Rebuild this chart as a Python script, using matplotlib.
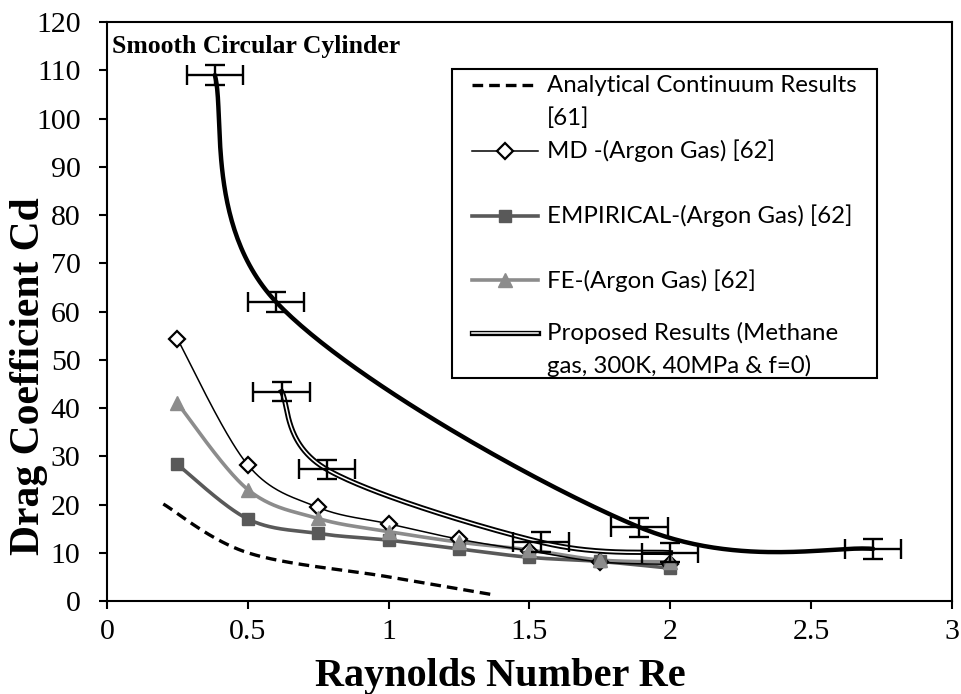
import numpy as np
import matplotlib
matplotlib.use("Agg")
import matplotlib.pyplot as plt
import matplotlib.patheffects as pe
from matplotlib.patches import Rectangle

# Reynolds number grid shared by the reference argon series
re_argon = [0.25, 0.5, 0.75, 1.0, 1.25, 1.5, 1.75, 2.0]
cd_md = [54.3, 28.2, 19.4, 16.0, 12.8, 10.4, 8.1, 7.6]
cd_empirical = [28.3, 17.0, 14.0, 12.6, 10.8, 9.05, 8.2, 6.8]
cd_fe = [41.0, 23.1, 17.1, 14.4, 12.2, 10.6, 8.5, 8.1]

# analytical continuum curve
re_analytical = [0.2, 0.5, 1.0, 1.38]
cd_analytical = [20.1, 10.0, 5.0, 1.2]

# proposed results (methane)
re_proposed = [0.62, 0.78, 1.54, 2.0]
cd_proposed = [43.4, 27.3, 12.2, 10.0]
proposed_xerr = 0.1
proposed_yerr = 2.0

# thick black trend curve with error bars
re_trend = [0.383, 0.6, 1.89, 2.72]
cd_trend = [109.0, 62.0, 15.3, 10.8]
trend_xerr = 0.1
trend_yerr = 2.0


def smooth(xs, ys, n=60):
    # Bezier smoothing through every point (spreadsheet style "smoothed line")
    p = np.column_stack([xs, ys]).astype(float)
    ext = np.vstack([p[0], p, p[-1]])
    t = np.linspace(0, 1, n)[1:, None]
    out = [p[:1]]
    for i in range(len(p) - 1):
        p0, p3 = ext[i + 1], ext[i + 2]
        c1 = p0 + (ext[i + 2] - ext[i]) / 6.0
        c2 = p3 - (ext[i + 3] - ext[i + 1]) / 6.0
        seg = ((1 - t) ** 3) * p0 + 3 * ((1 - t) ** 2) * t * c1 \
            + 3 * (1 - t) * t ** 2 * c2 + t ** 3 * p3
        out.append(seg)
    pts = np.vstack(out)
    return pts[:, 0], pts[:, 1]


plt.rcParams['font.family'] = ['Liberation Serif', 'DejaVu Serif']

fig = plt.figure(figsize=(9.62, 6.94), dpi=100)
ax = fig.add_axes([0.1112, 0.134, 0.8784, 0.8343])

dark_grey = '#595959'
light_grey = '#8c8c8c'
double_fx = [pe.Stroke(linewidth=3.8, foreground='black'), pe.Normal()]
dash = (3.2, 1.8)

# analytical
xs, ys = smooth(re_analytical, cd_analytical)
ax.plot(xs, ys, color='black', lw=2.4, dashes=dash, zorder=3)

# empirical
xs, ys = smooth(re_argon, cd_empirical)
ax.plot(xs, ys, color=dark_grey, lw=2.6, zorder=3)
ax.plot(re_argon, cd_empirical, ls='none', marker='s', ms=8.5, color=dark_grey, zorder=4)

# FE
xs, ys = smooth(re_argon, cd_fe)
ax.plot(xs, ys, color=light_grey, lw=2.6, zorder=3)
ax.plot(re_argon, cd_fe, ls='none', marker='^', ms=10.5, color=light_grey, zorder=4)

# MD
xs, ys = smooth(re_argon, cd_md)
ax.plot(xs, ys, color='black', lw=1.1, zorder=3)
ax.plot(re_argon, cd_md, ls='none', marker='D', ms=8, mfc='white', mec='black',
        mew=1.6, zorder=3.5)

# proposed (double line)
xs, ys = smooth(re_proposed, cd_proposed)
ax.plot(xs, ys, color='white', lw=1.1, path_effects=double_fx, zorder=5)
ax.errorbar(re_proposed, cd_proposed, xerr=proposed_xerr, yerr=proposed_yerr,
            fmt='none', ecolor='black', elinewidth=1.7, capsize=7.5, capthick=1.7,
            zorder=6)

# thick trend curve
xs, ys = smooth(re_trend, cd_trend)
ax.plot(xs, ys, color='black', lw=3.2, solid_capstyle='round', zorder=5)
ax.errorbar(re_trend, cd_trend, xerr=trend_xerr, yerr=trend_yerr,
            fmt='none', ecolor='black', elinewidth=1.7, capsize=7.5, capthick=1.7,
            zorder=6)

ax.set_xlim(0, 3)
ax.set_ylim(0, 120)
ax.set_xticks(np.arange(0, 3.01, 0.5))
ax.set_xticklabels(['0', '0.5', '1', '1.5', '2', '2.5', '3'])
ax.set_yticks(np.arange(0, 121, 10))
ax.tick_params(axis='both', direction='out', length=6, width=1.5, labelsize=21.5,
               colors='black')
ax.tick_params(axis='x', pad=7)
ax.tick_params(axis='y', pad=13)
for s in ax.spines.values():
    s.set_linewidth(1.5)
    s.set_color('black')

ax.set_xlabel('Raynolds Number Re', fontsize=29, fontweight='bold')
ax.xaxis.set_label_coords(0.466, -0.13)
ax.xaxis.label.set_va('center')
ax.set_ylabel('Drag Coefficient Cd', fontsize=30, fontweight='bold')
ax.yaxis.set_label_coords(-0.092, 0.389)
ax.yaxis.label.set_va('center')
ax.text(0.006, 0.957, 'Smooth Circular Cylinder', transform=ax.transAxes,
        fontsize=18.5, fontweight='bold', va='center', ha='left', zorder=7)

# legend box drawn by hand so the wrapped labels line up with the first row
leg_font = dict(family=['Lato', 'DejaVu Sans'], fontsize=17.3, va='center',
                ha='left', transform=ax.transAxes, zorder=9)
ax.add_patch(Rectangle((0.408, 0.385), 0.503, 0.534, transform=ax.transAxes,
                       facecolor='white', edgecolor='black', lw=1.5, zorder=8))
hx = [0.432, 0.510]
hm = [0.471]
rows = [
    (0.891, ['Analytical Continuum Results', '[61]']),
    (0.777, ['MD -(Argon Gas) [62]']),
    (0.665, ['EMPIRICAL-(Argon Gas) [62]']),
    (0.554, ['FE-(Argon Gas) [62]']),
    (0.463, ['Proposed Results (Methane', 'gas, 300K, 40MPa & f=0)']),
]
for (ry, lines) in rows:
    for k, line in enumerate(lines):
        ax.text(0.521, ry - k * 0.057, line, **leg_font)
kw = dict(transform=ax.transAxes, clip_on=False, zorder=9)
ax.plot(hx, [rows[0][0]] * 2, color='black', lw=2.4, dashes=dash, **kw)
ax.plot(hx, [rows[1][0]] * 2, color='black', lw=1.1, **kw)
ax.plot(hm, [rows[1][0]], marker='D', ms=8, mfc='white', mec='black', mew=1.6, **kw)
ax.plot(hx, [rows[2][0]] * 2, color=dark_grey, lw=2.6, **kw)
ax.plot(hm, [rows[2][0]], marker='s', ms=8.5, color=dark_grey, **kw)
ax.plot(hx, [rows[3][0]] * 2, color=light_grey, lw=2.6, **kw)
ax.plot(hm, [rows[3][0]], marker='^', ms=10.5, color=light_grey, **kw)
ax.plot(hx, [rows[4][0]] * 2, color='white', lw=1.1, path_effects=double_fx, **kw)

fig.savefig('out.png', dpi=100)
